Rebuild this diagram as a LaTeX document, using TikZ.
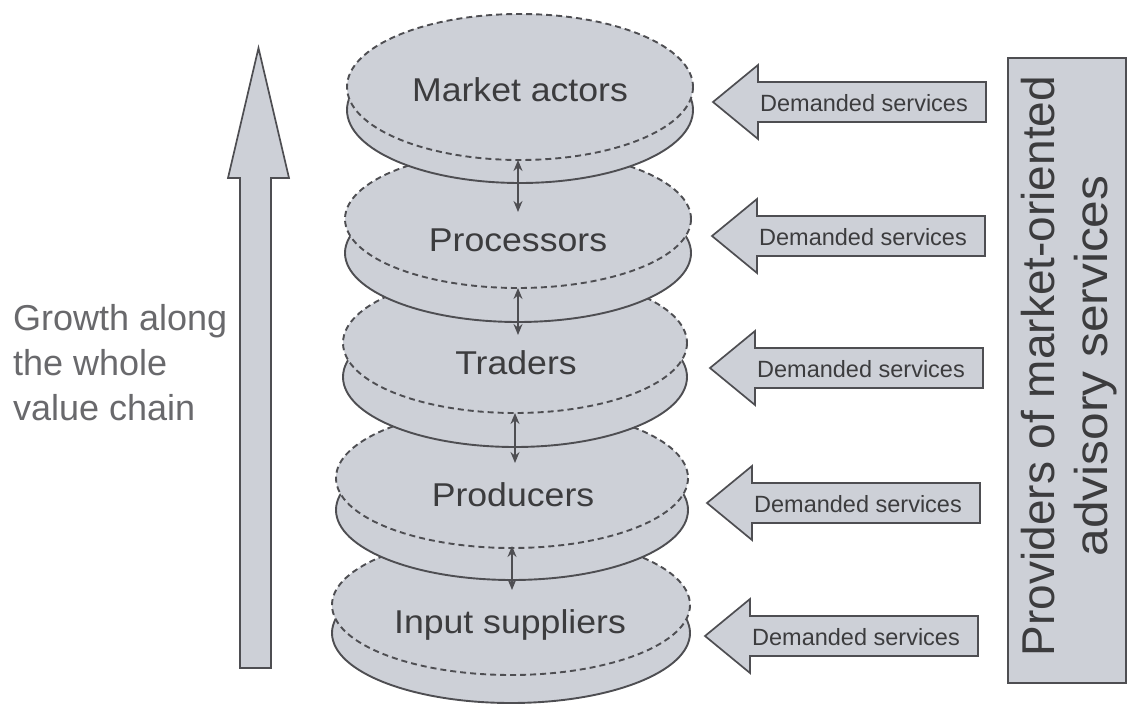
\documentclass[tikz,border=0pt]{standalone}
\usepackage{fontspec}
\usepackage{graphicx}
\setmainfont{Liberation Sans}
\usetikzlibrary{arrows.meta}

\definecolor{discfill}{RGB}{205,208,215}
\definecolor{edge}{RGB}{78,78,82}
\definecolor{ink}{RGB}{60,60,62}
\definecolor{softink}{RGB}{105,105,108}

\tikzset{
  disclow/.style={fill=discfill, draw=edge, line width=1.9pt},
  disctop/.style={fill=discfill, draw=edge, line width=1.9pt, dash pattern=on 6pt off 4pt},
  link/.style={{Stealth[length=11pt,width=9pt]}-{Stealth[length=11pt,width=9pt]}, draw=edge, line width=1.6pt},
  service/.style={fill=discfill, draw=edge, line width=1.7pt, line join=miter},
  servicetext/.style={text=ink, font=\fontsize{23.5}{27}\selectfont, inner sep=0pt},
  disclabel/.style={text=ink, font=\fontsize{33}{38}\selectfont, inner sep=0pt},
  growth/.style={fill=discfill, draw=edge, line width=1.7pt, line join=miter},
  sidetext/.style={text=softink, font=\fontsize{36}{45}\selectfont, align=left, inner sep=0pt},
  providers/.style={fill=discfill, draw=edge, line width=1.7pt},
  providertext/.style={text=ink, font=\fontsize{46}{53}\selectfont, align=center, inner sep=0pt, rotate=90}
}

\begin{document}
\begin{tikzpicture}[x=1pt, y=-1pt]
\useasboundingbox (0,0) rectangle (1130,706);

% growth arrow on the left
\draw[growth] (240,668) -- (240,178) -- (228,178) -- (258.5,48) -- (289,178)
  -- (271,178) -- (271,668) -- cycle;
\node[sidetext, anchor=west] (growthtext) at (13,363)
  {Growth along\\the whole\\value chain};

% stack of discs, drawn from the bottom up so upper discs overlap lower ones
\foreach \cx/\cy/\rx/\ry/\d in {511/605/179/70/28, 512/478/176/70/32,
    515/343/172/70/34, 518/219/173/69/34, 520/87/173/73/23} {
  \draw[disclow] (\cx,\cy+\d) ellipse [x radius=\rx, y radius=\ry];
  \draw[disctop] (\cx,\cy) ellipse [x radius=\rx, y radius=\ry];
}

\node[disclabel] (market) at (520,90) {\scalebox{1.08}[1]{Market actors}};
\node[disclabel] (proc) at (518,240) {\scalebox{1.08}[1]{Processors}};
\node[disclabel] (trade) at (516,363) {\scalebox{1.08}[1]{Traders}};
\node[disclabel] (prod) at (513,495) {\scalebox{1.08}[1]{Producers}};
\node[disclabel] (input) at (510,625) {\scalebox{1.08}[1]{Input suppliers}};

% two-way links between neighbouring discs
\coordinate (u1) at (518,160); \coordinate (l1) at (518,212);
\coordinate (u2) at (518,288); \coordinate (l2) at (518,335);
\coordinate (u3) at (515,413); \coordinate (l3) at (515,463);
\coordinate (u4) at (512,546); \coordinate (l4) at (512,590);
\draw[link] (u1) -- (l1);
\draw[link] (u2) -- (l2);
\draw[link] (u3) -- (l3);
\draw[link] (u4) -- (l4);

% demanded-services block arrows
\foreach \i/\tx/\cy in {1/713/102, 2/712/236, 3/710/368, 4/707/503, 5/705/636} {
  \draw[service] (\tx,\cy) -- (\tx+45,\cy-37) -- (\tx+45,\cy-20) -- (\tx+273,\cy-20)
    -- (\tx+273,\cy+20) -- (\tx+45,\cy+20) -- (\tx+45,\cy+37) -- cycle;
  \node[servicetext] (serv\i) at (\tx+151,\cy+1) {Demanded services};
}

% providers panel
\draw[providers] (1008,58) rectangle (1126,683);
\node[providertext] (prov) at (1069,366)
  {Providers of market-oriented\\\scalebox{1.08}[1]{advisory services}};
\end{tikzpicture}
\end{document}
